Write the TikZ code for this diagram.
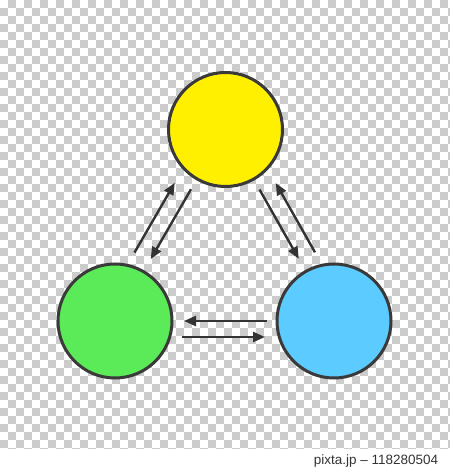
\documentclass[tikz,border=0pt]{standalone}
\usepackage{fontspec}
\newfontfamily\markfont{Liberation Sans}
\usetikzlibrary{arrows.meta}
\definecolor{checkgray}{HTML}{CCCCCC}
\definecolor{ringgray}{HTML}{3A3A3A}
\definecolor{arrowgray}{HTML}{333333}
\definecolor{sunyellow}{HTML}{FFF000}
\definecolor{leafgreen}{HTML}{5BEB58}
\definecolor{skyblue}{HTML}{5CCBFF}

\begin{document}
\begin{tikzpicture}[x=1pt,y=1pt,>={Triangle[length=12pt,width=10pt]},
                    blob/.style={circle,draw=ringgray,line width=3pt,minimum size=114pt,inner sep=0pt},
                    link/.style={->,draw=arrowgray,line width=2.4pt,shorten <=10.5pt,shorten >=13pt},
                    flat/.style={shorten <=8.5pt,shorten >=10.5pt}]
                \useasboundingbox (0,0) rectangle (450,469);
                \fill[white] (0,0) rectangle (450,469);
                \begin{scope}
                    \clip (0,20) rectangle (450,469);
                    \foreach \i in {0,...,56}{
                        \foreach \j in {0,...,57}{
                            \pgfmathtruncatemacro\k{mod(\i+\j,2)}
                            \ifnum\k=1 \fill[checkgray] (8*\i,461-8*\j) rectangle ++(8,8); \fi
                        }
                    }
                \end{scope}
                \node[blob,fill=sunyellow] (top) at (225.5,339.5) {};
                \node[blob,fill=leafgreen] (lft) at (115,148) {};
                \node[blob,fill=skyblue] (rgt) at (334,148) {};
                \draw[link] (top) -- (lft);
                \draw[link,transform canvas={shift={(-15pt,8.66pt)}}] (lft) -- (top);
                \draw[link] (top) -- (rgt);
                \draw[link,transform canvas={shift={(15pt,8.66pt)}}] (rgt) -- (top);
                \draw[link,flat] (rgt) -- (lft);
                \draw[link,flat,transform canvas={yshift=-16pt}] (lft) -- (rgt);
                \node[text=arrowgray,font=\markfont\fontsize{13.5}{16}\selectfont] (mark) at (376,8) {pixta.jp – 118280504};
            \end{tikzpicture}
\end{document}
